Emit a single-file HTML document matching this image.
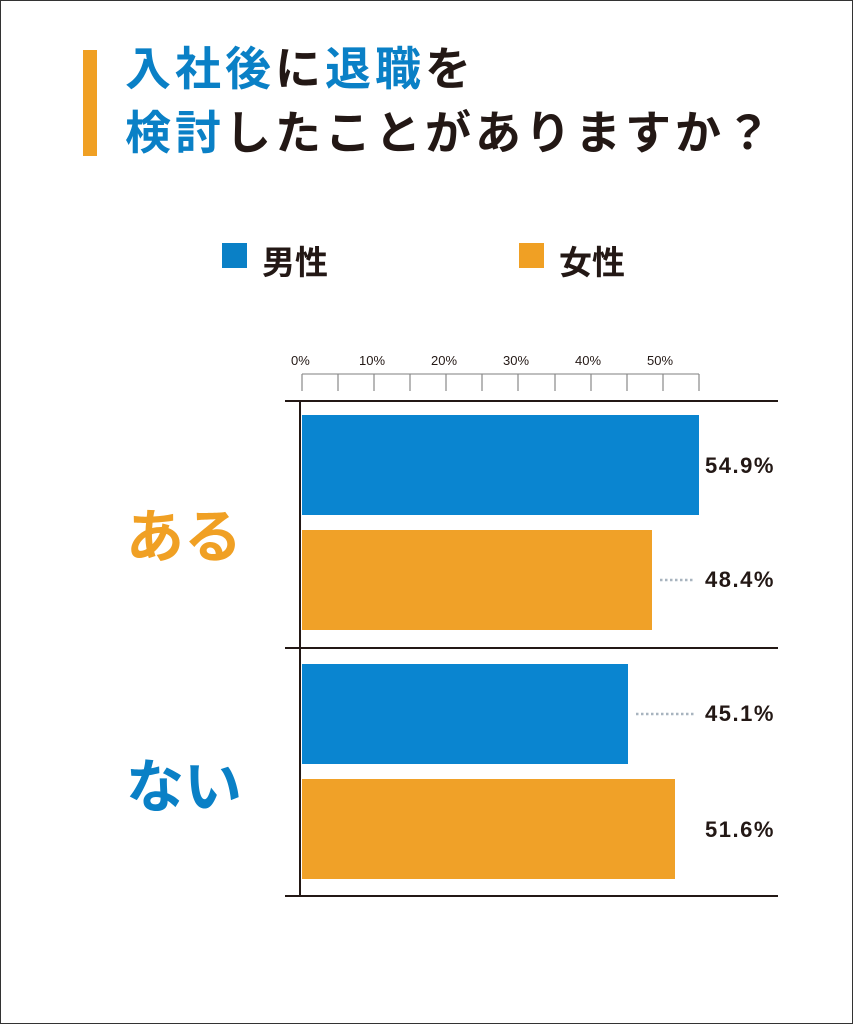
<!DOCTYPE html>
<html><head><meta charset="utf-8"><style>
body{margin:0;width:853px;height:1024px;background:#fff;position:relative;overflow:hidden;font-family:"Liberation Sans","Noto Sans CJK JP",sans-serif}
.frame{position:absolute;left:0;top:0;width:851px;height:1022px;border:1px solid #333}
.a{position:absolute}
.t{font-weight:bold;font-size:46px;line-height:1;color:#231815;white-space:nowrap;letter-spacing:4px}
.b{color:#0a80c6}
.v{position:absolute;left:705px;font-size:22px;font-weight:bold;color:#231815;letter-spacing:1.5px}
.tk{position:absolute;font-size:13px;color:#231815}
</style></head><body>
<div class="frame"></div>
<div class="a" style="left:83px;top:50px;width:14px;height:106px;background:#f0a024"></div>
<div class="a t" style="left:125px;top:46px"><span class="b">入社後</span>に<span class="b">退職</span>を</div>
<div class="a t" style="left:125px;top:110px"><span class="b">検討</span>したことがありますか？</div>
<div class="a" style="left:222px;top:243px;width:25px;height:25px;background:#0a80c6"></div>
<div class="a" style="left:262px;top:236px;font-size:33px;font-weight:bold;color:#231815">男性</div>
<div class="a" style="left:519px;top:243px;width:25px;height:25px;background:#f0a024"></div>
<div class="a" style="left:559px;top:236px;font-size:33px;font-weight:bold;color:#231815">女性</div>
<svg class="a" style="left:0;top:0" width="853" height="1024">
<line x1="302" y1="374" x2="699" y2="374" stroke="#aaa" stroke-width="1.5"/>
<g stroke="#888" stroke-width="1.2">
<line x1="302" y1="374" x2="302" y2="391"/><line x1="338" y1="374" x2="338" y2="391"/><line x1="374" y1="374" x2="374" y2="391"/><line x1="410" y1="374" x2="410" y2="391"/><line x1="446" y1="374" x2="446" y2="391"/><line x1="482" y1="374" x2="482" y2="391"/><line x1="518" y1="374" x2="518" y2="391"/><line x1="555" y1="374" x2="555" y2="391"/><line x1="591" y1="374" x2="591" y2="391"/><line x1="627" y1="374" x2="627" y2="391"/><line x1="663" y1="374" x2="663" y2="391"/><line x1="699" y1="374" x2="699" y2="391"/>
</g>
<line x1="285" y1="401" x2="778" y2="401" stroke="#231815" stroke-width="2"/>
<line x1="285" y1="648" x2="778" y2="648" stroke="#231815" stroke-width="2"/>
<line x1="285" y1="896" x2="778" y2="896" stroke="#231815" stroke-width="2"/>
<line x1="300" y1="401" x2="300" y2="896" stroke="#231815" stroke-width="2"/>
<rect x="302" y="415" width="397" height="100" fill="#0a85d0"/>
<rect x="302" y="530" width="350" height="100" fill="#f0a128"/>
<rect x="302" y="664" width="326" height="100" fill="#0a85d0"/>
<rect x="302" y="779" width="373" height="100" fill="#f0a128"/>
<line x1="660" y1="580" x2="695" y2="580" stroke="#a8b4bf" stroke-width="2.5" stroke-dasharray="2.5 2.5"/>
<line x1="636" y1="714" x2="695" y2="714" stroke="#a8b4bf" stroke-width="2.5" stroke-dasharray="2.5 2.5"/>
</svg>
<div class="tk" style="left:291px;top:353px">0%</div>
<div class="tk" style="left:359px;top:353px">10%</div>
<div class="tk" style="left:431px;top:353px">20%</div>
<div class="tk" style="left:503px;top:353px">30%</div>
<div class="tk" style="left:575px;top:353px">40%</div>
<div class="tk" style="left:647px;top:353px">50%</div>
<div class="v" style="top:453px">54.9%</div>
<div class="v" style="top:567px">48.4%</div>
<div class="v" style="top:701px">45.1%</div>
<div class="v" style="top:817px">51.6%</div>
<div class="a" style="left:126px;top:490px;font-size:58px;font-weight:bold;color:#f0a024">ある</div>
<div class="a" style="left:126px;top:740px;font-size:58px;font-weight:bold;color:#0a80c6">ない</div>
</body></html>
